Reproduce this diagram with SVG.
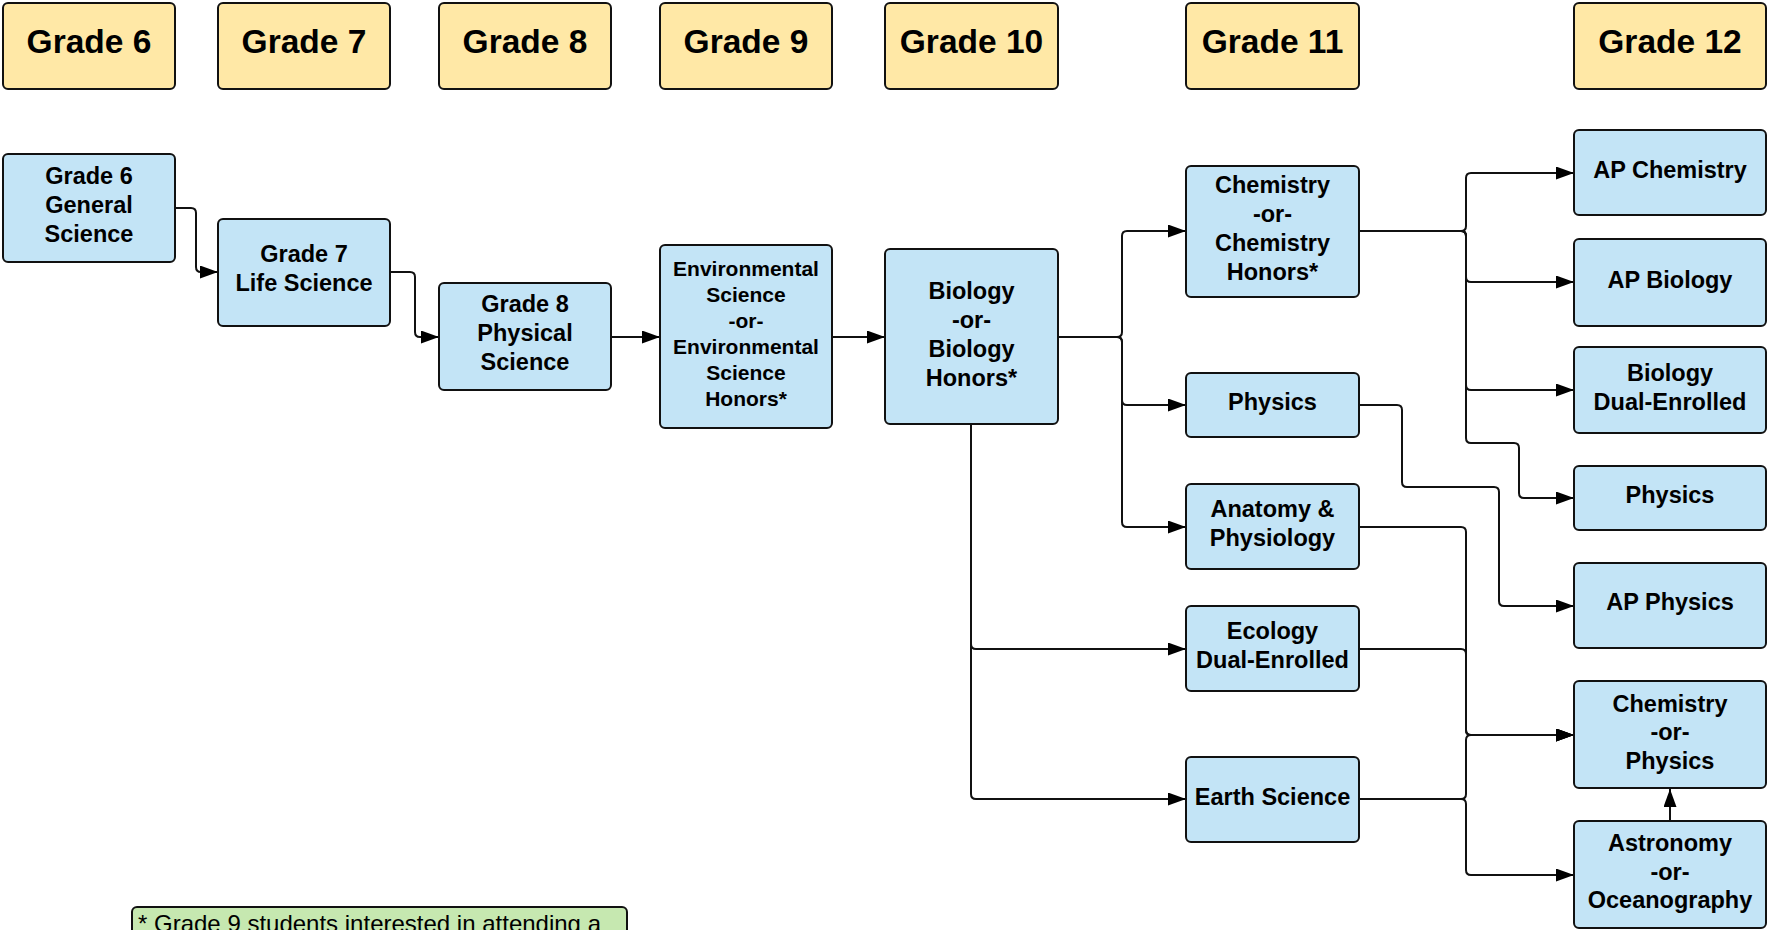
<svg xmlns="http://www.w3.org/2000/svg" width="1768" height="930" viewBox="0 0 1768 930">
<style>
.hdr rect{fill:#FFE8A6;stroke:#111;stroke-width:2}
.node rect{fill:#C3E4F6;stroke:#111;stroke-width:2}
.hdr text{font-family:"Liberation Sans",Arial,sans-serif;font-weight:bold;font-size:33.5px;fill:#000;text-anchor:middle}
.node text{font-family:"Liberation Sans",Arial,sans-serif;font-weight:bold;font-size:23.5px;fill:#000;text-anchor:middle}
.node text.sm{font-size:21px}
.note rect{fill:#C6E8B0;stroke:#111;stroke-width:2}
.note text{font-family:"Liberation Sans",Arial,sans-serif;font-size:24px;fill:#000}
.conn path{fill:none;stroke:#111;stroke-width:2;marker-end:url(#arr)}
</style>
<defs>
<marker id="arr" viewBox="0 0 18 13" refX="18" refY="6.5" markerWidth="18" markerHeight="13" markerUnits="userSpaceOnUse" orient="auto">
<path d="M0,0 L18,6.5 L0,13 z" fill="#000"/>
</marker>
</defs>
<rect width="1768" height="930" fill="#fff"/>

<g id="headers">
<g id="h6" class="hdr"><rect x="3" y="3" width="172" height="86" rx="5"/><text x="89" y="53">Grade 6</text></g>
<g id="h7" class="hdr"><rect x="218" y="3" width="172" height="86" rx="5"/><text x="304" y="53">Grade 7</text></g>
<g id="h8" class="hdr"><rect x="439" y="3" width="172" height="86" rx="5"/><text x="525" y="53">Grade 8</text></g>
<g id="h9" class="hdr"><rect x="660" y="3" width="172" height="86" rx="5"/><text x="746" y="53">Grade 9</text></g>
<g id="h10" class="hdr"><rect x="885" y="3" width="173" height="86" rx="5"/><text x="971.5" y="53">Grade 10</text></g>
<g id="h11" class="hdr"><rect x="1186" y="3" width="173" height="86" rx="5"/><text x="1272.5" y="53">Grade 11</text></g>
<g id="h12" class="hdr"><rect x="1574" y="3" width="192" height="86" rx="5"/><text x="1670" y="53">Grade 12</text></g>
</g>

<g id="connectors" class="conn">
<path d="M175,208 H191 Q196,208 196,213 V267 Q196,272 201,272 H218"/>
<path d="M390,272 H410 Q415,272 415,277 V332 Q415,337 420,337 H439"/>
<path d="M611,337 H660"/>
<path d="M832,337 H885"/>
<path d="M1058,337 H1117 Q1122,337 1122,332 V236 Q1122,231 1127,231 H1186"/>
<path d="M1058,337 H1117 Q1122,337 1122,342 V400 Q1122,405 1127,405 H1186"/>
<path d="M1058,337 H1117 Q1122,337 1122,342 V522 Q1122,527 1127,527 H1186"/>
<path d="M971,424 V644 Q971,649 976,649 H1186"/>
<path d="M971,424 V794 Q971,799 976,799 H1186"/>
<path d="M1359,231 H1461 Q1466,231 1466,226 V178 Q1466,173 1471,173 H1574"/>
<path d="M1359,231 H1461 Q1466,231 1466,236 V277 Q1466,282 1471,282 H1574"/>
<path d="M1359,231 H1461 Q1466,231 1466,236 V385 Q1466,390 1471,390 H1574"/>
<path d="M1359,231 H1461 Q1466,231 1466,236 V438 Q1466,443 1471,443 H1514 Q1519,443 1519,448 V493 Q1519,498 1524,498 H1574"/>
<path d="M1359,405 H1397 Q1402,405 1402,410 V482 Q1402,487 1407,487 H1494 Q1499,487 1499,492 V601 Q1499,606 1504,606 H1574"/>
<path d="M1359,527 H1461 Q1466,527 1466,532 V730 Q1466,735 1471,735 H1574"/>
<path d="M1359,649 H1461 Q1466,649 1466,654 V730 Q1466,735 1471,735 H1574"/>
<path d="M1359,799 H1461 Q1466,799 1466,794 V740 Q1466,735 1471,735 H1574"/>
<path d="M1359,799 H1461 Q1466,799 1466,804 V870 Q1466,875 1471,875 H1574"/>
<path d="M1670,821 V789"/>
</g>

<g id="n_g6" class="node"><rect x="3" y="154" width="172" height="108" rx="5"/><text x="89" y="184">Grade 6</text><text x="89" y="213">General</text><text x="89" y="242">Science</text></g>
<g id="n_g7" class="node"><rect x="218" y="219" width="172" height="107" rx="5"/><text x="304" y="262">Grade 7</text><text x="304" y="291">Life Science</text></g>
<g id="n_g8" class="node"><rect x="439" y="283" width="172" height="107" rx="5"/><text x="525" y="312">Grade 8</text><text x="525" y="341">Physical</text><text x="525" y="370">Science</text></g>
<g id="n_env" class="node"><rect x="660" y="245" width="172" height="183" rx="5"/>
<text class="sm" x="746" y="275.5">Environmental</text><text class="sm" x="746" y="301.5">Science</text><text class="sm" x="746" y="327.5">-or-</text><text class="sm" x="746" y="353.5">Environmental</text><text class="sm" x="746" y="379.5">Science</text><text class="sm" x="746" y="405.5">Honors*</text></g>
<g id="n_bio" class="node"><rect x="885" y="249" width="173" height="175" rx="5"/><text x="971.5" y="298.5">Biology</text><text x="971.5" y="327.5">-or-</text><text x="971.5" y="356.5">Biology</text><text x="971.5" y="385.5">Honors*</text></g>
<g id="n_chem" class="node"><rect x="1186" y="166" width="173" height="131" rx="5"/><text x="1272.5" y="193">Chemistry</text><text x="1272.5" y="222">-or-</text><text x="1272.5" y="251">Chemistry</text><text x="1272.5" y="280">Honors*</text></g>
<g id="n_phys11" class="node"><rect x="1186" y="373" width="173" height="64" rx="5"/><text x="1272.5" y="410">Physics</text></g>
<g id="n_anat" class="node"><rect x="1186" y="484" width="173" height="85" rx="5"/><text x="1272.5" y="517">Anatomy &amp;</text><text x="1272.5" y="546">Physiology</text></g>
<g id="n_eco" class="node"><rect x="1186" y="606" width="173" height="85" rx="5"/><text x="1272.5" y="639">Ecology</text><text x="1272.5" y="668">Dual-Enrolled</text></g>
<g id="n_earth" class="node"><rect x="1186" y="757" width="173" height="85" rx="5"/><text x="1272.5" y="804.5">Earth Science</text></g>
<g id="n_apchem" class="node"><rect x="1574" y="130" width="192" height="85" rx="5"/><text x="1670" y="178">AP Chemistry</text></g>
<g id="n_apbio" class="node"><rect x="1574" y="239" width="192" height="87" rx="5"/><text x="1670" y="288">AP Biology</text></g>
<g id="n_biode" class="node"><rect x="1574" y="347" width="192" height="86" rx="5"/><text x="1670" y="380.5">Biology</text><text x="1670" y="409.5">Dual-Enrolled</text></g>
<g id="n_phys12" class="node"><rect x="1574" y="466" width="192" height="64" rx="5"/><text x="1670" y="503">Physics</text></g>
<g id="n_apphys" class="node"><rect x="1574" y="563" width="192" height="85" rx="5"/><text x="1670" y="610">AP Physics</text></g>
<g id="n_chemphys" class="node"><rect x="1574" y="681" width="192" height="107" rx="5"/><text x="1670" y="712">Chemistry</text><text x="1670" y="740">-or-</text><text x="1670" y="769">Physics</text></g>
<g id="n_astro" class="node"><rect x="1574" y="821" width="192" height="107" rx="5"/><text x="1670" y="851">Astronomy</text><text x="1670" y="880">-or-</text><text x="1670" y="908">Oceanography</text></g>

<g id="note" class="note"><rect x="132" y="907" width="495" height="60" rx="5"/><text x="138" y="932">* Grade 9 students interested in attending a</text></g>
</svg>
